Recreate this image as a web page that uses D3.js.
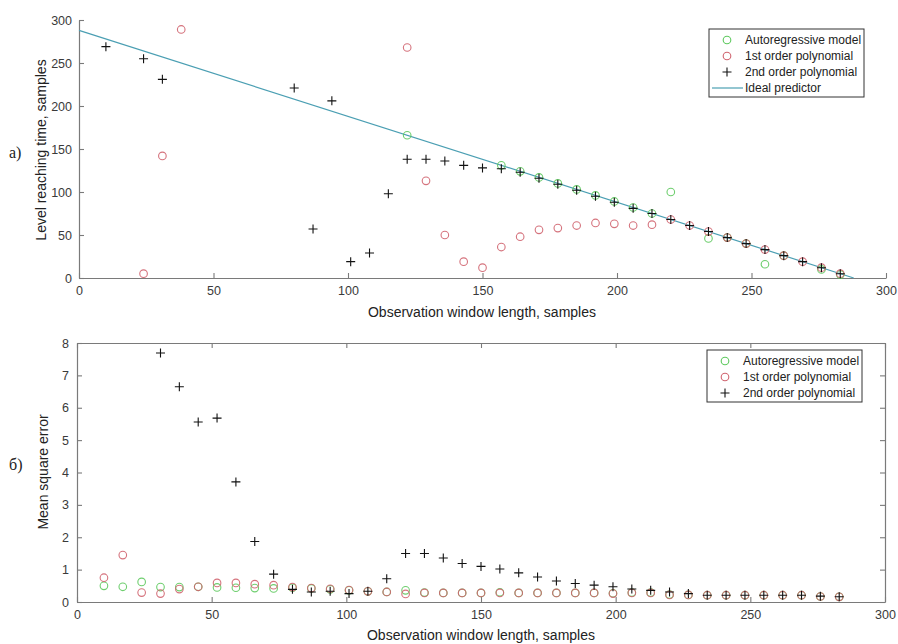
<!DOCTYPE html>
<html><head><meta charset="utf-8">
<script src="https://cdn.jsdelivr.net/npm/d3@7"></script>
<style>
html,body{margin:0;padding:0;background:#fff;}
svg{display:block;font-family:"Liberation Sans",Arial,sans-serif;}
</style></head>
<body>
<svg id="chart" width="898" height="644"></svg>
<script>
// Observation window lengths (samples)
const windowLengths = [10,17,24,31,38,45,52,59,66,73,80,87,94,101,108,115,122,129,136,143,150,157,164,171,178,185,192,199,206,213,220,227,234,241,248,255,262,269,276,283];

// Panel а) Level reaching time, samples
const arLevel = [null,null,null,null,null,null,null,null,null,null,null,null,null,null,null,null,166,null,null,null,null,131,124,117,110,103,96,89,82,75,100,null,46,47,40,16,26,null,10,4];
const p1Level = [null,null,5,142,289,null,null,null,null,null,null,null,null,null,null,null,268,113,50,19,12,36,48,56,58,61,64,63,61,62,68,61,54,47,40,33,26,19,12,5];
const p2Level = [269,null,255,231,null,null,null,null,null,null,221,57,206,19,29,98,138,138,136,131,128,127,123,116,109,102,95,88,81,75,68,61,54,47,40,33,26,19,12,5];
const idealX = [0,288];
const idealY = [288,0];

// Panel б) Mean square error
const arMse = [0.50,0.47,0.62,0.46,0.46,0.47,0.45,0.44,0.43,0.42,0.44,0.42,0.39,0.36,0.33,0.31,0.36,0.29,0.28,0.28,0.28,0.30,0.28,0.28,0.28,0.28,0.28,0.27,0.29,0.29,0.23,0.22,0.21,0.21,0.21,0.21,0.21,0.21,0.17,0.16];
const p1Mse = [0.75,1.45,0.29,0.26,0.40,0.47,0.59,0.59,0.55,0.52,0.46,0.43,0.41,0.37,0.33,0.31,0.25,0.28,0.28,0.28,0.28,0.28,0.28,0.28,0.28,0.28,0.28,0.26,0.28,0.28,0.22,0.22,0.21,0.21,0.21,0.21,0.21,0.21,0.17,0.16];
const p2Mse = [null,null,null,7.69,6.65,5.56,5.68,3.71,1.87,0.86,0.39,0.31,0.33,0.26,0.33,0.72,1.50,1.50,1.36,1.19,1.10,1.02,0.90,0.77,0.65,0.57,0.52,0.47,0.40,0.36,0.31,0.26,0.21,0.21,0.21,0.21,0.21,0.21,0.18,0.16];

// Ticks and labels
const xTicks = [0,50,100,150,200,250,300];
const yTicksTop = [0,50,100,150,200,250,300];
const yTicksBot = [0,1,2,3,4,5,6,7,8];
const seriesNames = ["Autoregressive model","1st order polynomial","2nd order polynomial","Ideal predictor"];
const xLabel = "Observation window length, samples";
const yLabelTop = "Level reaching time, samples";
const yLabelBot = "Mean square error";
const panelLabels = ["а)","б)"];

const C_GREEN = "#5ec95e", C_RED = "#d0646f", C_LINE = "#4b9fb3", AX = "#7a7a7a", TXT = "#3a3a3a";

const svg = d3.select("#chart");

function pts(vals){ return windowLengths.map((x,i)=>({x, y: vals[i]})).filter(d=>d.y!=null); }

function drawMarkers(g, x, y, vals, kind){
  const data = pts(vals);
  if(kind==="cross"){
    g.append("g").selectAll("path").data(data).join("path")
      .attr("d", d=>`M${x(d.x)-4.5},${y(d.y)}H${x(d.x)+4.5}M${x(d.x)},${y(d.y)-4.5}V${y(d.y)+4.5}`)
      .attr("stroke","#111").attr("stroke-width",1.1).attr("fill","none");
  } else {
    g.append("g").selectAll("circle").data(data).join("circle")
      .attr("cx", d=>x(d.x)).attr("cy", d=>y(d.y)).attr("r",3.8)
      .attr("fill","none").attr("stroke", kind==="green"?C_GREEN:C_RED).attr("stroke-width",1.1)
      .attr("stroke-opacity",0.9);
  }
}

function styleAxis(g){
  g.selectAll(".domain").attr("stroke",AX).attr("stroke-width",1.2);
  g.selectAll(".tick line").attr("stroke",AX).attr("stroke-width",1.1);
  g.selectAll(".tick text").attr("fill",TXT).attr("font-size",12.5).attr("font-family","Liberation Sans, Arial, sans-serif");
}

function legend(g, x0, y0, w, h, items){
  g.append("rect").attr("x",x0).attr("y",y0).attr("width",w).attr("height",h)
    .attr("fill","#fff").attr("stroke","#333").attr("stroke-width",1);
  items.forEach((it,i)=>{
    const cy = y0 + 11 + i*16;
    const mx = x0 + 18;
    if(it.kind==="green"||it.kind==="red"){
      g.append("circle").attr("cx",mx).attr("cy",cy).attr("r",3.8).attr("fill","none")
        .attr("stroke", it.kind==="green"?C_GREEN:C_RED).attr("stroke-width",1.1);
    } else if(it.kind==="cross"){
      g.append("path").attr("d",`M${mx-4.5},${cy}H${mx+4.5}M${mx},${cy-4.5}V${cy+4.5}`).attr("stroke","#111").attr("stroke-width",1.1);
    } else {
      g.append("line").attr("x1",x0+3).attr("x2",x0+34).attr("y1",cy).attr("y2",cy).attr("stroke",C_LINE).attr("stroke-width",1.2);
    }
    g.append("text").attr("x",x0+36).attr("y",cy+4).attr("font-size",12).attr("fill","#222").text(it.name);
  });
}

// ---------- Top panel ----------
{
  const x = d3.scaleLinear().domain([0,300]).range([79,886]);
  const y = d3.scaleLinear().domain([0,300]).range([278,20]);
  const g = svg.append("g");
  const ax = g.append("g").attr("transform","translate(0,278)")
    .call(d3.axisBottom(x).tickValues(xTicks).tickSizeInner(-5).tickSizeOuter(0).tickPadding(8));
  styleAxis(ax);
  const ay = g.append("g").attr("transform","translate(79,0)")
    .call(d3.axisLeft(y).tickValues(yTicksTop).tickSizeInner(-5).tickSizeOuter(0).tickPadding(7));
  styleAxis(ay);

  const line = d3.line().x(d=>x(d[0])).y(d=>y(d[1]));
  g.append("path").datum(idealX.map((v,i)=>[v,idealY[i]])).attr("d",line)
    .attr("stroke",C_LINE).attr("stroke-width",1.2).attr("fill","none");

  drawMarkers(g,x,y,arLevel,"green");
  drawMarkers(g,x,y,p1Level,"red");
  drawMarkers(g,x,y,p2Level,"cross");

  g.append("text").attr("x",482).attr("y",317).attr("text-anchor","middle").attr("font-size",14).attr("fill","#222").text(xLabel);
  g.append("text").attr("transform","translate(46,150) rotate(-90)").attr("text-anchor","middle").attr("font-size",14).attr("fill","#222").text(yLabelTop);
  g.append("text").attr("x",9).attr("y",158).attr("font-family","Liberation Serif, Times New Roman, serif").attr("font-size",16).attr("fill","#222").text(panelLabels[0]);

  legend(g,709,29,155,68,[
    {kind:"green",name:seriesNames[0]},{kind:"red",name:seriesNames[1]},
    {kind:"cross",name:seriesNames[2]},{kind:"line",name:seriesNames[3]}]);
}

// ---------- Bottom panel ----------
{
  const x = d3.scaleLinear().domain([0,300]).range([77,885]);
  const y = d3.scaleLinear().domain([0,8]).range([602,343]);
  const g = svg.append("g");
  const ax = g.append("g").attr("transform","translate(0,602)")
    .call(d3.axisBottom(x).tickValues(xTicks).tickSizeInner(-5).tickSizeOuter(0).tickPadding(8));
  styleAxis(ax);
  const axT = g.append("g").attr("transform","translate(0,343)")
    .call(d3.axisTop(x).tickValues(xTicks).tickSizeInner(-5).tickSizeOuter(0).tickFormat(""));
  styleAxis(axT);
  const ay = g.append("g").attr("transform","translate(77,0)")
    .call(d3.axisLeft(y).tickValues(yTicksBot).tickSizeInner(-5).tickSizeOuter(0).tickPadding(8));
  styleAxis(ay);
  const ayR = g.append("g").attr("transform","translate(885,0)")
    .call(d3.axisRight(y).tickValues(yTicksBot).tickSizeInner(-5).tickSizeOuter(0).tickFormat(""));
  styleAxis(ayR);

  drawMarkers(g,x,y,arMse,"green");
  drawMarkers(g,x,y,p1Mse,"red");
  drawMarkers(g,x,y,p2Mse,"cross");

  g.append("text").attr("x",481).attr("y",640).attr("text-anchor","middle").attr("font-size",14).attr("fill","#222").text(xLabel);
  g.append("text").attr("transform","translate(48,472) rotate(-90)").attr("text-anchor","middle").attr("font-size",14).attr("fill","#222").text(yLabelBot);
  g.append("text").attr("x",9).attr("y",470).attr("font-family","Liberation Serif, Times New Roman, serif").attr("font-size",16).attr("fill","#222").text(panelLabels[1]);

  legend(g,707,350,155,52,[
    {kind:"green",name:seriesNames[0]},{kind:"red",name:seriesNames[1]},
    {kind:"cross",name:seriesNames[2]}]);
}
</script>
</body></html>
